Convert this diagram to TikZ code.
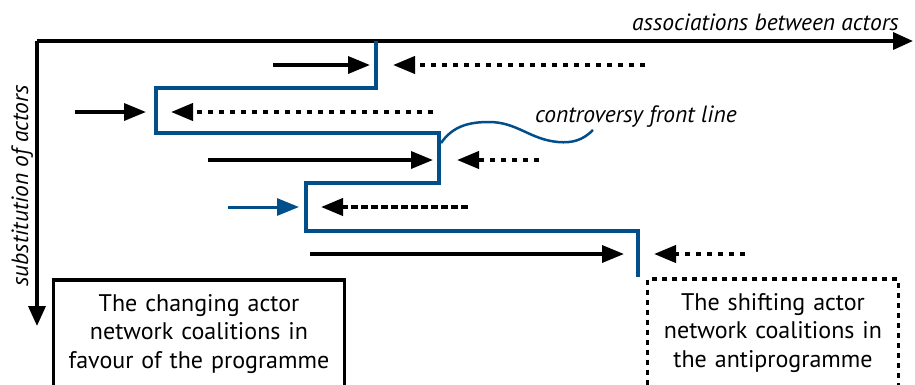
\documentclass[tikz,border=0pt]{standalone}
\usepackage{fontspec}
\setmainfont{PT Sans}
\usetikzlibrary{arrows.meta, positioning, calc}
\definecolor{frontblue}{RGB}{0,79,138}

\tikzset{
    axisArrow/.style={line width=3.5pt, -{Triangle[length=20pt,width=17pt]}},
    proArrow/.style={line width=3.5pt, -{Triangle[length=22pt,width=17pt]}},
    antiArrow/.style={line width=4pt, dash pattern=on 5pt off 6pt, -{Triangle[length=22pt,width=17pt]}},
    antiDashed/.style={line width=4pt, dash pattern=on 7pt off 3pt, -{Triangle[length=22pt,width=17pt]}},
    axisText/.style={inner sep=0pt, font=\fontsize{23.5}{27}\selectfont\itshape},
    coalitionBox/.style={rectangle, minimum width=288pt, minimum height=108pt, text width=284pt, align=center, font=\fontsize{24}{28.5}\selectfont}
}

\begin{document}
\begin{tikzpicture}[x=1pt, y=1pt]
        		\useasboundingbox (0,0) rectangle (915,-384);

        		% axes
        		\coordinate (Origin) at (37,-41);
        		\coordinate (AssocEnd) at (913,-41);
        		\coordinate (SubstEnd) at (37,-326);
        		\draw[axisArrow] (Origin) -- (AssocEnd);
        		\draw[axisArrow] (Origin) -- (SubstEnd);
        		\node (AssocLabel) at (899,-30) [anchor=base east, axisText]{associations between actors};
        		\node (SubstLabel) at (28,-186) [anchor=base, rotate=90, axisText]{substitution of actors};

        		% front line
        		\draw[frontblue, line width=4.5pt, line join=miter] (376,-41) -- (376,-88) -- (156,-88) -- (156,-133) -- (439,-133) -- (439,-183) -- (306,-183) -- (306,-231) -- (638,-231) -- (638,-277);
        		\draw[frontblue, line width=2.5pt] (441,-143) to[out=55,in=180] (489,-122) to[out=0,in=175] (558,-142) to[out=-5,in=-135] (593,-130);
        		\node (FrontLabel) at (535,-122) [anchor=base west, axisText]{controversy front line};

        		% row 1
        		\coordinate (ProStartA) at (273,-65);
        		\coordinate (ProEndA) at (370,-65);
        		\draw[proArrow] (ProStartA) -- (ProEndA);
        		\coordinate (AntiStartA) at (645,-65);
        		\coordinate (AntiEndA) at (393,-65);
        		\draw[antiArrow] (AntiStartA) -- (AntiEndA);

        		% row 2
        		\coordinate (ProStartB) at (75,-112);
        		\coordinate (ProEndB) at (146,-112);
        		\draw[proArrow] (ProStartB) -- (ProEndB);
        		\coordinate (AntiStartB) at (433,-112);
        		\coordinate (AntiEndB) at (171,-112);
        		\draw[antiArrow] (AntiStartB) -- (AntiEndB);

        		% row 3
        		\coordinate (ProStartC) at (208,-160);
        		\coordinate (ProEndC) at (433,-160);
        		\draw[proArrow] (ProStartC) -- (ProEndC);
        		\coordinate (AntiStartC) at (539,-160);
        		\coordinate (AntiEndC) at (457,-160);
        		\draw[antiArrow] (AntiStartC) -- (AntiEndC);

        		% row 4
        		\coordinate (ProStartD) at (228,-207);
        		\coordinate (ProEndD) at (299,-207);
        		\draw[proArrow, frontblue, line width=3pt] (ProStartD) -- (ProEndD);
        		\coordinate (AntiStartD) at (468,-207);
        		\coordinate (AntiEndD) at (321,-207);
        		\draw[antiDashed] (AntiStartD) -- (AntiEndD);

        		% row 5
        		\coordinate (ProStartE) at (310,-254);
        		\coordinate (ProEndE) at (624,-254);
        		\draw[proArrow] (ProStartE) -- (ProEndE);
        		\coordinate (AntiStartE) at (745,-254);
        		\coordinate (AntiEndE) at (654,-254);
        		\draw[antiArrow] (AntiStartE) -- (AntiEndE);

        		% coalitions
        		\node (Programme) at (199,-334) [coalitionBox, draw, line width=3.5pt]{The changing actor\\network coalitions in\\favour of the programme};
        		\node (Antiprogramme) at (773,-333) [coalitionBox, draw, line width=3.5pt, dash pattern=on 5pt off 5pt, minimum width=248pt, text width=244pt]{The shifting actor\\network coalitions in\\the antiprogramme};
		    \end{tikzpicture}
\end{document}
